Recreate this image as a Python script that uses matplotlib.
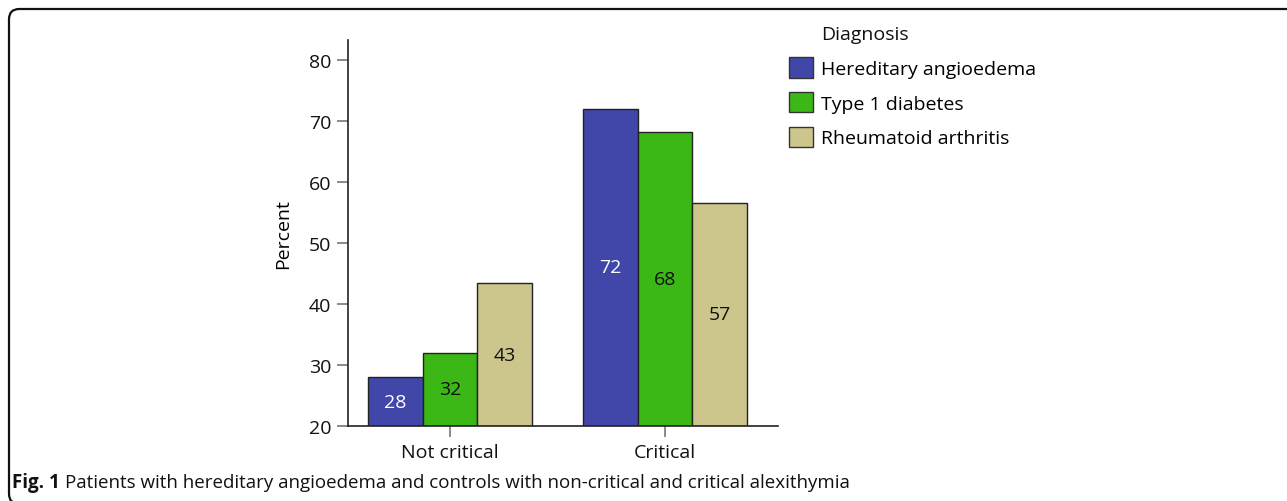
import matplotlib.pyplot as plt
import numpy as np
from matplotlib.patches import FancyBboxPatch

plt.rcParams["font.family"] = ["Open Sans", "DejaVu Sans"]

# Data
groups = ["Not critical", "Critical"]
diagnoses = ["Hereditary angioedema", "Type 1 diabetes", "Rheumatoid arthritis"]
hae = [28.0, 72.0]
t1d = [32.0, 68.2]
ra = [43.4, 56.6]
colors = ["#4147A8", "#3CB816", "#CCC68D"]
label_colors = ["white", "#111111", "#111111"]

W, H = 1287, 502
fs = 14
fig = plt.figure(figsize=(W / 100, H / 100), dpi=100)

# rounded frame around the figure (right and bottom edges run off the image)
frame = FancyBboxPatch(
    (9 / W, -3 / H), 1.1, (H - 7) / H,
    boxstyle="round,pad=0,rounding_size=0.008",
    transform=fig.transFigure, fill=False, edgecolor="#111111", linewidth=1.6,
    mutation_aspect=W / H,
)
fig.patches.append(frame)

ax = fig.add_axes([348 / W, (H - 427) / H, 430 / W, (427 - 41) / H])

x = np.arange(len(groups))
width = 0.2535
series = [hae, t1d, ra]
for i, (vals, col, lc) in enumerate(zip(series, colors, label_colors)):
    pos = x + (i - 1) * width
    bars = ax.bar(pos, np.array(vals) - 20, width, bottom=20, color=col,
                  edgecolor="#222222", linewidth=1.0, label=diagnoses[i])
    for b, v in zip(bars, vals):
        ax.text(b.get_x() + b.get_width() / 2, 20 + (v - 20) / 2, f"{v:.0f}",
                ha="center", va="center", fontsize=fs, color=lc)

ax.set_ylim(20, 83.3)
ax.set_xlim(-0.474, 1.526)
ax.set_yticks(range(20, 81, 10))
ax.set_xticks(x)
ax.set_xticklabels(groups)
ax.set_ylabel("Percent", fontsize=fs, labelpad=12)

for s in ["top", "right"]:
    ax.spines[s].set_visible(False)
for s in ["left", "bottom"]:
    ax.spines[s].set_color("#222222")
    ax.spines[s].set_linewidth(1.2)
ax.tick_params(axis="both", direction="out", length=8, width=1.2,
               color="#777777", labelsize=fs, labelcolor="#111111", pad=4)

# legend, title placed separately so it lines up with the entry text
leg = ax.legend(loc="upper left", bbox_to_anchor=(789 / W, (H - 58) / H),
                bbox_transform=fig.transFigure, frameon=False, fontsize=fs,
                handlelength=1.25, handleheight=1.25, handletextpad=0.4,
                labelspacing=0.72, borderpad=0, borderaxespad=0)
for p in leg.get_patches():
    p.set_edgecolor("#333333")
fig.text(821 / W, (H - 35) / H, "Diagnosis", fontsize=fs, va="center",
         color="#111111")

# caption with bold figure number
cap = fig.text(12 / W, (H - 483) / H, "Fig. 1", fontsize=13.5,
               fontweight="bold", va="center", color="#111111")
fig.canvas.draw()
bb = cap.get_window_extent()
fig.text((bb.x1 + 5) / W, (H - 483) / H,
         "Patients with hereditary angioedema and controls with non-critical "
         "and critical alexithymia", fontsize=13.5, va="center", color="#111111")

fig.savefig("out.png", dpi=100)
